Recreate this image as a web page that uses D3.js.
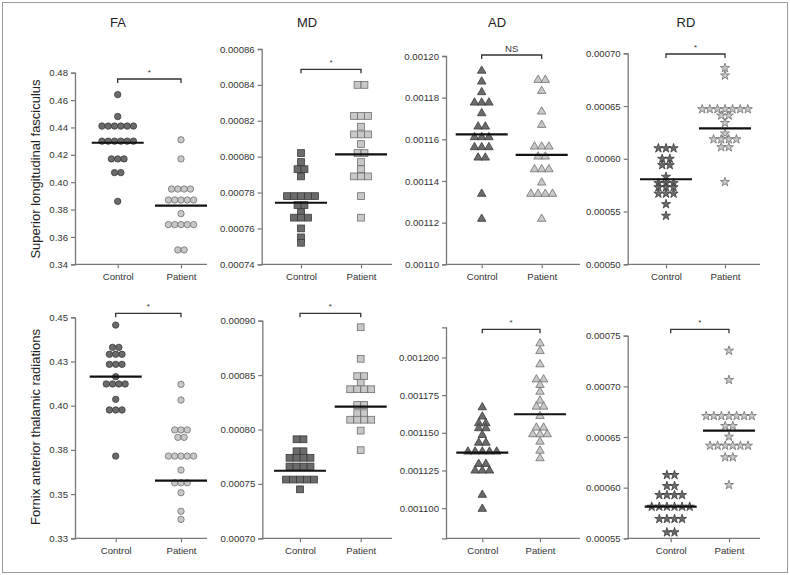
<!DOCTYPE html>
<html><head><meta charset="utf-8">
<script src="https://cdn.jsdelivr.net/npm/d3@7"></script>
<style>
html,body{margin:0;padding:0;background:#fff;}
svg{display:block;font-family:"Liberation Sans",Arial,Helvetica,sans-serif;}
</style></head>
<body>
<svg id="chart" width="790" height="575"></svg>
<script>
// ---------- DATA ----------
const groups = ["Control", "Patient"];
const measures = ["FA", "MD", "AD", "RD"];
const tracts = ["Superior longitudinal fasciculus", "Fornix anterior thalamic radiations"];

// Superior longitudinal fasciculus
const slfFAControl = [0.464,0.448,0.441,0.441,0.441,0.441,0.441,0.441,0.430,0.430,0.430,0.430,0.430,0.430,0.417,0.417,0.417,0.407,0.407,0.386];
const slfFAPatient = [0.431,0.417,0.395,0.395,0.395,0.395,0.387,0.387,0.387,0.387,0.387,0.377,0.369,0.369,0.369,0.369,0.369,0.3505,0.3505];
const slfMDControl = [0.000802,0.000797,0.000793,0.000793,0.000789,0.000778,0.000778,0.000778,0.000778,0.000778,0.000773,0.000773,0.000769,0.000766,0.000766,0.000766,0.000760,0.000755,0.000752];
const slfMDPatient = [0.000840,0.000840,0.0008227,0.0008227,0.0008227,0.0008167,0.0008124,0.0008124,0.0008124,0.000807,0.000802,0.000802,0.000797,0.000793,0.000789,0.000789,0.000789,0.000778,0.000766];
const slfADControl = [0.0011929,0.0011877,0.0011826,0.0011776,0.0011776,0.0011776,0.0011725,0.0011661,0.0011661,0.001161,0.001161,0.001161,0.0011562,0.0011562,0.0011562,0.0011512,0.0011512,0.0011338,0.0011218];
const slfADPatient = [0.0011885,0.0011885,0.0011832,0.0011733,0.0011669,0.0011565,0.0011565,0.0011565,0.0011517,0.0011517,0.0011456,0.0011456,0.0011456,0.0011392,0.0011338,0.0011338,0.0011338,0.0011338,0.0011218];
const slfRDControl = [0.000610,0.000610,0.000610,0.000600,0.000600,0.000594,0.000594,0.000583,0.000577,0.000577,0.000577,0.000573,0.000573,0.000573,0.000567,0.000567,0.000567,0.000557,0.000546];
const slfRDPatient = [0.000686,0.000679,0.000647,0.000647,0.000647,0.000647,0.000647,0.000647,0.000647,0.000641,0.000641,0.000634,0.000624,0.0006185,0.0006185,0.0006185,0.0006185,0.000611,0.000611,0.000578];

// Fornix anterior thalamic radiations
const fatFAControl = [0.4456,0.433,0.433,0.4291,0.4291,0.4291,0.4234,0.4234,0.4234,0.4164,0.4123,0.4123,0.4123,0.4123,0.4036,0.3976,0.3976,0.3976,0.3715];
const fatFAPatient = [0.4121,0.4032,0.3863,0.3863,0.3863,0.3821,0.3821,0.3715,0.3715,0.3715,0.3715,0.3715,0.3636,0.3564,0.3564,0.3564,0.3508,0.3403,0.3357];
const fatMDControl = [0.000791,0.000791,0.000780,0.000780,0.000774,0.000774,0.000774,0.000774,0.000766,0.000766,0.000766,0.000766,0.000754,0.000754,0.000754,0.000754,0.000754,0.000745];
const fatMDPatient = [0.000894,0.000865,0.000849,0.000849,0.000843,0.000837,0.000837,0.000837,0.000837,0.0008225,0.0008225,0.000815,0.000815,0.000809,0.000809,0.000809,0.000809,0.000799,0.000781];
const fatADControl = [0.0011669,0.0011607,0.0011563,0.0011563,0.001153,0.001153,0.0011485,0.0011434,0.0011434,0.0011375,0.0011375,0.0011375,0.0011375,0.0011375,0.0011293,0.0011293,0.0011249,0.0011249,0.0011249,0.0011088,0.0010995];
const fatADPatient = [0.0012093,0.0012042,0.0011954,0.0011854,0.0011854,0.0011817,0.0011772,0.0011713,0.0011673,0.0011673,0.0011611,0.0011534,0.0011534,0.001149,0.001149,0.001149,0.0011441,0.0011381,0.0011331];
const fatRDControl = [0.0006125,0.0006125,0.0006016,0.0006016,0.0005927,0.0005927,0.0005927,0.0005927,0.0005812,0.0005812,0.0005812,0.0005812,0.0005812,0.0005812,0.0005691,0.0005691,0.0005691,0.0005691,0.0005559,0.0005559];
const fatRDPatient = [0.0007352,0.0007063,0.0006707,0.0006707,0.0006707,0.0006707,0.0006707,0.0006707,0.0006707,0.0006609,0.0006609,0.0006503,0.0006414,0.0006414,0.0006414,0.0006414,0.0006414,0.0006414,0.00063,0.00063,0.0006026];

// group means (horizontal bars), [control, patient]
const slfMeans = [[0.4288,0.3829],[0.0007743,0.0008013],[0.0011624,0.0011525],[0.0005806,0.0006289]];
const fatMeans = [[0.4164,0.3576],[0.0007621,0.000821],[0.0011368,0.0011623],[0.0005812,0.0006562]];

// significance labels
const slfSig = ["*","*","NS","*"];
const fatSig = ["*","*","*","*"];

// axis domains and ticks
const slfDomains = [[0.34,0.48],[0.00074,0.00086],[0.0011,0.0012],[0.0005,0.0007]];
const fatDomains = [[0.325,0.45],[0.0007,0.0009],[0.00108,0.00122],[0.00055,0.00075]];
const slfTicks = [
  [0.34,0.36,0.38,0.40,0.42,0.44,0.46,0.48],
  [0.00074,0.00076,0.00078,0.00080,0.00082,0.00084,0.00086],
  [0.00110,0.00112,0.00114,0.00116,0.00118,0.00120],
  [0.00050,0.00055,0.00060,0.00065,0.00070]];
const slfTickLabels = [
  ["0.34","0.36","0.38","0.40","0.42","0.44","0.46","0.48"],
  ["0.00074","0.00076","0.00078","0.00080","0.00082","0.00084","0.00086"],
  ["0.00110","0.00112","0.00114","0.00116","0.00118","0.00120"],
  ["0.00050","0.00055","0.00060","0.00065","0.00070"]];
const fatTicks = [
  [0.325,0.35,0.375,0.40,0.425,0.45],
  [0.00070,0.00075,0.00080,0.00085,0.00090],
  [0.0011,0.001125,0.00115,0.001175,0.0012],
  [0.00055,0.00060,0.00065,0.00070,0.00075]];
const fatTickLabels = [
  ["0.33","0.35","0.38","0.40","0.43","0.45"],
  ["0.00070","0.00075","0.00080","0.00085","0.00090"],
  ["0.001100","0.001125","0.001150","0.001175","0.001200"],
  ["0.00055","0.00060","0.00065","0.00070","0.00075"]];

const shapes = ["circle","square","triangle","star"];

// ---------- LAYOUT ----------
const svg = d3.select("#chart");
const rowsData = [
  {data:[[slfFAControl,slfFAPatient],[slfMDControl,slfMDPatient],[slfADControl,slfADPatient],[slfRDControl,slfRDPatient]],
   means:slfMeans, sig:slfSig, domains:slfDomains, ticks:slfTicks, labels:slfTickLabels, label:tracts[0]},
  {data:[[fatFAControl,fatFAPatient],[fatMDControl,fatMDPatient],[fatADControl,fatADPatient],[fatRDControl,fatRDPatient]],
   means:fatMeans, sig:fatSig, domains:fatDomains, ticks:fatTicks, labels:fatTickLabels, label:tracts[1]}
];
// per panel geometry: axis x, control x, patient x, axis end, y top, y bottom, bracket y
const geom = [
  [ {ax:75,  xc:117.7, xp:181,   xe:207, yt:72.7,  yb:264.3, by:79},
    {ax:261.7,xc:301,  xp:361,   xe:392, yt:49,    yb:264.3, by:69.3},
    {ax:446, xc:481.7, xp:541.7, xe:580, yt:56,    yb:264.3, by:55},
    {ax:627.7,xc:666,  xp:725,   xe:760, yt:53.3,  yb:264.3, by:54} ],
  [ {ax:75,  xc:115.7, xp:181,   xe:207, yt:317.3, yb:538.3, by:313.3},
    {ax:262.3,xc:300,  xp:360.7, xe:392, yt:320.7, yb:538.3, by:313.3},
    {ax:446, xc:482.3, xp:540,   xe:580, yt:327.3, yb:538.3, by:329.3},
    {ax:627.7,xc:670.7,xp:729,   xe:760, yt:335.7, yb:538.3, by:329.3} ]
];
const titleX = [118, 307, 497, 686];
const ylabelPos = [{x:40, y:169}, {x:40, y:427}];

// outer frame
svg.append("rect").attr("x",2.5).attr("y",2.5).attr("width",785).attr("height",570)
  .attr("fill","none").attr("stroke","#9a9a9a").attr("stroke-width",1);

// column titles
svg.selectAll("text.coltitle").data(measures).join("text")
  .attr("class","coltitle").attr("x",(d,i)=>titleX[i]).attr("y",27)
  .attr("text-anchor","middle").attr("font-size",13).attr("fill","#222").text(d=>d);

const fills = ["#6b6b6b","#c8c8c8"];
const strokes = ["#3a3a3a","#6e6e6e"];
const spacing = {circle:6.3, square:7, triangle:7.2, star:7.6};

function markerPath(shape){
  if(shape==="triangle") return d3.symbol(d3.symbolTriangle, 31)();
  if(shape==="star") return d3.symbol(d3.symbolStar, 26)();
  return null;
}

rowsData.forEach((row, r) => {
  // row y label
  svg.append("text")
    .attr("transform",`translate(${ylabelPos[r].x},${ylabelPos[r].y}) rotate(-90)`)
    .attr("text-anchor","middle").attr("font-size",13).attr("fill","#222").text(row.label);

  row.data.forEach((pair, c) => {
    const g = geom[r][c];
    const shape = shapes[c];
    const y = d3.scaleLinear().domain(row.domains[c]).range([g.yb, g.yt]);
    const x = d3.scalePoint().domain(groups).range([g.xc, g.xp]);
    const pg = svg.append("g");

    // y axis
    const yAxis = d3.axisLeft(y).tickValues(row.ticks[c])
      .tickFormat((d,i)=>row.labels[c][i]).tickSizeOuter(0).tickSize(4).tickPadding(3);
    const ya = pg.append("g").attr("transform",`translate(${g.ax},0)`).call(yAxis);
    ya.select(".domain").attr("stroke","#777").attr("stroke-width",1.3);
    ya.selectAll(".tick line").attr("stroke","#777").attr("stroke-width",1.2);
    ya.selectAll(".tick text").attr("font-size",9.6).attr("fill","#333")
      .attr("font-family","'Liberation Sans',Arial,sans-serif");

    // x axis
    const xAxis = d3.axisBottom(x).tickSize(4).tickPadding(5).tickSizeOuter(0);
    const xa = pg.append("g").attr("transform",`translate(0,${g.yb})`).call(xAxis);
    xa.select(".domain").remove();
    xa.append("line").attr("x1",g.ax).attr("x2",g.xe).attr("y1",0).attr("y2",0)
      .attr("stroke","#777").attr("stroke-width",1.3);
    xa.selectAll(".tick line").attr("stroke","#777").attr("stroke-width",1.2);
    xa.selectAll(".tick text").attr("font-size",9.6).attr("fill","#333")
      .attr("font-family","'Liberation Sans',Arial,sans-serif");

    // points: group equal values into rows, centered
    pair.forEach((vals, gi) => {
      const cx = x(groups[gi]);
      const counts = d3.rollup(vals, v=>v.length, d=>d);
      const seen = new Map();
      const pts = vals.map(v => {
        const n = counts.get(v);
        const k = seen.get(v) || 0; seen.set(v, k+1);
        return {v, px: cx + (k - (n-1)/2) * spacing[shape], py: y(v)};
      });
      const sel = pg.append("g").selectAll("g").data(pts).join("g")
        .attr("transform", d=>`translate(${d.px},${d.py})`);
      if(shape==="circle"){
        sel.append("circle").attr("r",3.2).attr("fill",fills[gi]).attr("stroke",strokes[gi]).attr("stroke-width",0.8);
      } else if(shape==="square"){
        sel.append("rect").attr("x",-3.4).attr("y",-3.4).attr("width",6.8).attr("height",6.8)
          .attr("fill",fills[gi]).attr("stroke",strokes[gi]).attr("stroke-width",0.8);
      } else {
        sel.append("path").attr("d",markerPath(shape)).attr("fill",fills[gi]).attr("stroke",strokes[gi]).attr("stroke-width",0.8);
      }
      // mean line
      pg.append("line").attr("x1",cx-26).attr("x2",cx+26)
        .attr("y1",y(row.means[c][gi])).attr("y2",y(row.means[c][gi]))
        .attr("stroke","#111").attr("stroke-width",2.2);
    });

    // significance bracket
    const xc = x(groups[0]), xp = x(groups[1]);
    pg.append("path")
      .attr("d",`M${xc},${g.by+4}V${g.by}H${xp}V${g.by+4}`)
      .attr("fill","none").attr("stroke","#333").attr("stroke-width",1.3);
    const sig = row.sig[c];
    pg.append("text").attr("x",(xc+xp)/2).attr("y", sig==="NS" ? g.by-3 : g.by-4)
      .attr("text-anchor","middle").attr("font-size", sig==="NS" ? 9.6 : 8).attr("fill","#333").text(sig);
  });
});
</script>
</body></html>
